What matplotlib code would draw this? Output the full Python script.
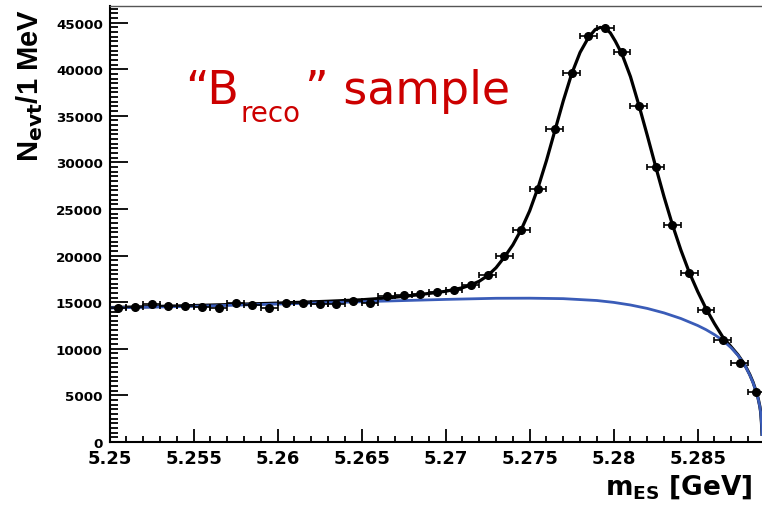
import matplotlib.pyplot as plt
import numpy as np

# binned data (1 MeV bins)
mes_bins = [5.2505, 5.2515, 5.2525, 5.2535, 5.2545, 5.2555, 5.2565, 5.2575,
            5.2585, 5.2595, 5.2605, 5.2615, 5.2625, 5.2635, 5.2645, 5.2655,
            5.2665, 5.2675, 5.2685, 5.2695, 5.2705, 5.2715, 5.2725, 5.2735,
            5.2745, 5.2755, 5.2765, 5.2775, 5.2785, 5.2795, 5.2805, 5.2815,
            5.2825, 5.2835, 5.2845, 5.2855, 5.2865, 5.2875, 5.2885]
n_evt = [14345, 14450, 14800, 14560, 14630, 14450, 14345, 14880,
         14700, 14380, 14880, 14915, 14800, 14800, 15160, 14880,
         15630, 15770, 15880, 16060, 16310, 16850, 17920, 19990,
         22780, 27150, 33580, 39560, 43530, 44390, 41810, 36080,
         29470, 23280, 18100, 14200, 10950, 8450, 5330]

# total fit (black)
fit_x = [5.2500, 5.2550, 5.2600, 5.2630, 5.2650, 5.2665, 5.2680, 5.2690,
         5.2700, 5.2710, 5.2715, 5.2720, 5.2725, 5.2730, 5.2735, 5.2740,
         5.2745, 5.2750, 5.2755, 5.2760, 5.2765, 5.2770, 5.2775, 5.2780,
         5.2785, 5.2789, 5.2792, 5.2795, 5.2798, 5.2801, 5.2805, 5.2810,
         5.2815, 5.2820, 5.2825, 5.2830, 5.2835, 5.2840, 5.2845, 5.2850,
         5.2855, 5.2860, 5.2865, 5.2870, 5.2874, 5.2878, 5.2881, 5.2883,
         5.2885, 5.2886, 5.2887, 5.28875, 5.2888, 5.28883]
fit_y = [14420, 14640, 14900, 15100, 15260, 15450, 15720, 15940,
         16170, 16550, 16850, 17250, 17850, 18700, 19850, 21150,
         22800, 24800, 27300, 30200, 33400, 36600, 39500, 41800,
         43400, 44250, 44480, 44380, 43900, 43000, 41600, 39200,
         36150, 32900, 29550, 26300, 23300, 20600, 18200, 16150,
         14300, 12700, 11250, 10200, 9350, 8300, 7250, 6400,
         5330, 4680, 3830, 3230, 2030, 830]

# background component (blue)
bkg_x = [5.2500, 5.2550, 5.2600, 5.2650, 5.2700, 5.2730, 5.2750, 5.2770,
         5.2790, 5.2800, 5.2810, 5.2820, 5.2830, 5.2840, 5.2850, 5.2855,
         5.2860, 5.2865, 5.2870, 5.2874, 5.2878, 5.2881, 5.2883, 5.2885,
         5.2886, 5.2887, 5.28875, 5.2888, 5.28883]
bkg_y = [14380, 14560, 14800, 15050, 15300, 15420, 15430, 15380,
         15180, 14980, 14700, 14330, 13850, 13250, 12500, 12050,
         11520, 10900, 10100, 9300, 8250, 7200, 6350, 5300,
         4650, 3800, 3200, 2000, 800]

W, H = 762, 506
fig = plt.figure(figsize=(W / 100, H / 100), dpi=100)
ax = fig.add_axes([109.7 / W, 1 - 443 / H, (W - 109.7) / W, 436 / H])

ax.plot(fit_x, fit_y, color="black", lw=2.3, zorder=2)
ax.plot(bkg_x, bkg_y, color="#3a5cb8", lw=2.0, zorder=3)
ax.errorbar(mes_bins, n_evt, xerr=0.0005, fmt="o", color="black",
            ms=5.5, elinewidth=1.2, capsize=2.2, capthick=1.2, zorder=4)

ax.set_xlim(5.25, 5.28883)
ax.set_ylim(0, 46780)
ax.set_xticks([5.25, 5.255, 5.26, 5.265, 5.27, 5.275, 5.28, 5.285])
ax.set_xticklabels(["5.25", "5.255", "5.26", "5.265", "5.27", "5.275", "5.28", "5.285"])
ax.set_xticks(np.arange(5.251, 5.2885, 0.001), minor=True)
ax.set_yticks(np.arange(0, 45001, 5000))
ax.set_yticks(np.arange(0, 46600, 500), minor=True)

ax.tick_params(which="both", direction="in", width=1.3, colors="black")
ax.tick_params(axis="x", which="major", length=9.5, pad=5, labelsize=13)
ax.tick_params(axis="x", which="minor", length=4.5)
ax.tick_params(axis="y", which="major", length=13, pad=5, labelsize=9.7)
ax.tick_params(axis="y", which="minor", length=6)
for lab in ax.get_xticklabels() + ax.get_yticklabels():
    lab.set_fontweight("bold")

for s in ["left", "bottom"]:
    ax.spines[s].set_linewidth(1.5)
ax.spines["top"].set_linewidth(1.0)
ax.spines["top"].set_color("#555555")
ax.spines["right"].set_visible(False)

# axis titles
fig.text(30 / W, 1 - 85 / H, r"N$_{\mathbf{evt}}$/1 MeV", rotation=90,
         ha="center", va="center", fontsize=21, fontweight="bold",
         family="Liberation Sans")
fig.text(752 / W, 1 - 495 / H, r"m$_{\mathbf{ES}}$ [GeV]", ha="right",
         va="baseline", fontsize=19, fontweight="bold", family="DejaVu Sans")

# sample label
red = "#cc0000"
fig.text(185 / W, 1 - 103.5 / H, "\u201cB", color=red, fontsize=33,
         family="DejaVu Sans", va="baseline")
fig.text(241 / W, 1 - 122.5 / H, "reco", color=red, fontsize=20,
         family="DejaVu Sans", va="baseline")
fig.text(305 / W, 1 - 103.5 / H, "\u201d sample", color=red, fontsize=33,
         family="DejaVu Sans", va="baseline")

fig.savefig("out.png", dpi=100)
